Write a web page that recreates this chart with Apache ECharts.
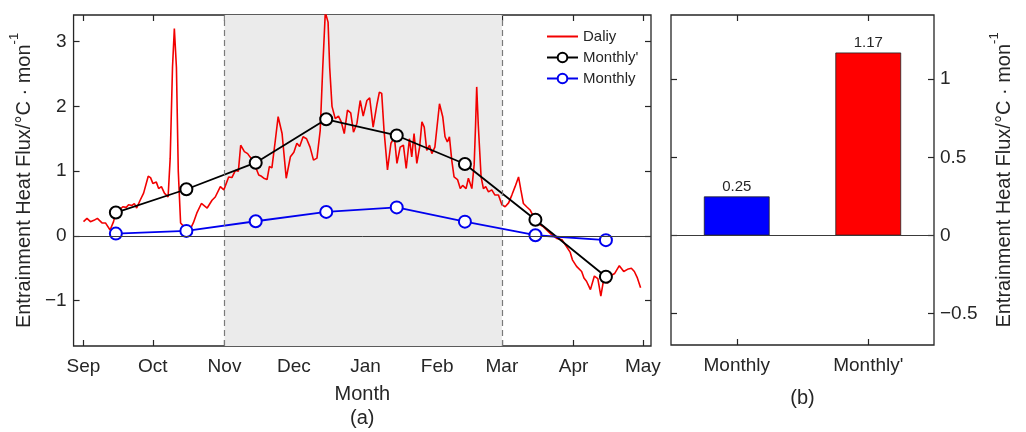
<!DOCTYPE html>
<html><head><meta charset="utf-8">
<script src="https://cdn.jsdelivr.net/npm/echarts@6/dist/echarts.min.js"></script>
<style>html,body{margin:0;padding:0;background:#fff}#c{width:1026px;height:432px}</style>
</head><body><div id="c"></div>
<script>
// ---- data ----
const monthLabels = ['Sep','Oct','Nov','Dec','Jan','Feb','Mar','Apr','May'];
const monthStartDays = [0,30,61,91,122,153,181,212,242];
const monthlyDays = [14,44.5,74.5,105,135.5,165,195.5,226];
const monthlyPrime = [0.36,0.72,1.13,1.80,1.55,1.11,0.25,-0.63];
const monthlyPlain = [0.035,0.077,0.226,0.37,0.44,0.22,0.01,-0.066];
const dailyDays = [0,1.5,3,4.5,6,8,9.5,11.5,13,14,15.5,17,18.5,19.5,21,22,23,24.5,26,28,29,30,31.5,32.5,33.7,35,36.6,37.5,38.5,39.3,40.2,41,42,44,46,47.5,49,51,53.5,55.6,57,59.2,60.7,62.8,64.2,65.7,67,68,69.6,71,72,73.5,75.8,77,78,79.4,80.4,81.5,82.2,83,84.2,85.9,87.7,89.5,91,92.3,93.5,95,96.5,98,99.5,101,102.4,103.5,104.6,105.8,106.5,107.5,108.9,110.3,111.5,112.8,114.2,115.6,116.8,118.3,119.7,121,122.6,123.8,125.3,127,128,129,130,131.5,133,134.5,135.6,137,138.4,139.6,141,142,143,144.2,145.4,146.4,147.4,148.5,149.7,150.7,152,154,155.4,156.4,157.4,158.3,159.3,160.3,161.8,163,164,165.5,166.5,168,169,169.6,170.1,170.8,172,173,174,175.2,176.6,178,179.5,181,182.4,183.9,185.3,186.7,188.2,189.2,190.3,191.7,193.2,194.6,196,197.5,199,201,202.5,204.7,207,208.5,210.5,211.5,213.3,215.5,216.5,217.6,219.3,221,222.5,223.8,225,226.7,227.8,229.8,231.8,233.7,235.7,237,238.3,239.5,241];
const dailyValues = [0.22,0.27,0.22,0.24,0.27,0.2,0.2,0.09,0.22,0.37,0.4,0.45,0.44,0.48,0.47,0.5,0.43,0.55,0.66,0.92,0.9,0.81,0.83,0.73,0.76,0.66,0.6,1.2,2.6,3.2,2.6,1.0,0.2,0.12,0.09,0.2,0.35,0.5,0.43,0.55,0.6,0.76,0.71,0.91,0.9,1.01,1.0,1.4,1.3,1.27,1.22,1.15,0.94,0.92,0.89,0.87,1.07,1.05,1.02,1.48,1.84,1.58,0.89,1.22,1.29,1.43,1.38,1.53,1.5,1.37,1.17,1.2,1.63,2.6,3.45,3.3,2.6,2.0,1.81,1.85,1.76,1.58,1.94,1.9,1.6,1.74,2.09,1.85,2.09,2.13,1.68,2.04,2.22,2.2,1.63,1.02,1.43,1.52,1.12,1.37,1.4,1.04,1.5,1.22,1.58,1.12,1.37,1.76,1.68,1.32,1.4,1.27,1.37,2.04,1.84,1.53,1.45,1.53,1.17,0.91,0.87,0.73,0.78,0.73,0.89,0.73,1.1,1.7,2.3,1.7,0.91,0.73,0.76,0.68,0.71,0.63,0.63,0.48,0.45,0.51,0.63,0.76,0.91,0.71,0.5,0.45,0.4,0.3,0.23,0.17,0.14,0.07,0.02,-0.04,-0.06,-0.14,-0.25,-0.37,-0.47,-0.55,-0.65,-0.7,-0.83,-0.62,-0.66,-0.93,-0.68,-0.73,-0.62,-0.58,-0.46,-0.55,-0.51,-0.5,-0.55,-0.64,-0.8];
const barCategories = ['Monthly', "Monthly'"];
const barValues = [0.25, 1.17];
const leftYTicks = [-1,0,1,2,3];
const rightYTicks = [-0.5,0,0.5,1];
const shadeRange = [61,181];

// ---- chart ----
const FONT = 'Liberation Sans, Arial, Helvetica, sans-serif';
const INK = '#262626';
const fmtNum = v => String(v).replace('-', '\u2212');
const nameRich = {
  m: {fontSize: 20, lineHeight: 26, verticalAlign: 'bottom', fontFamily: FONT, color: INK},
  s: {fontSize: 13, lineHeight: 13, verticalAlign: 'top', fontFamily: FONT, color: INK}
};
const yName = '{m|Entrainment Heat Flux/°C · mon}{s|-1}';
const tick = {show: true, inside: true, length: 6, lineStyle: {color: INK, width: 1.2}};
const noLine = {show: false, onZero: false};

const chart = echarts.init(document.getElementById('c'), null, {renderer: 'canvas'});
chart.setOption({
  backgroundColor: '#fff',
  animation: false,
  textStyle: {fontFamily: FONT},
  grid: [
    {left: 73, top: 15, width: 578, height: 331, show: true, borderColor: INK, borderWidth: 1.3, backgroundColor: 'transparent'},
    {left: 671, top: 15, width: 263, height: 330, show: true, borderColor: INK, borderWidth: 1.3, backgroundColor: 'transparent'}
  ],
  legend: {
    data: [{name: 'Daliy', itemStyle: {opacity: 0}}, "Monthly'", 'Monthly'],
    orient: 'vertical', left: 541, top: 24, itemWidth: 31, itemHeight: 12, itemGap: 6,
    textStyle: {fontSize: 15, color: INK, fontFamily: FONT}
  },
  graphic: [{type: 'text', left: 350, top: 408, style: {text: '(a)', fontSize: 20, fontFamily: FONT, fill: INK}}],
  xAxis: [
    {gridIndex: 0, type: 'value', min: -4.3, max: 245.5, position: 'bottom',
     splitLine: {show: false}, axisLine: noLine,
     axisTick: Object.assign({customValues: monthStartDays}, tick),
     axisLabel: {customValues: monthStartDays, fontSize: 19, color: INK, margin: 11,
       formatter: v => monthLabels[monthStartDays.indexOf(Math.round(v))] || ''},
     name: 'Month', nameLocation: 'middle', nameGap: 38,
     nameTextStyle: {fontSize: 20, color: INK, fontFamily: FONT}},
    {gridIndex: 0, type: 'value', min: -4.3, max: 245.5, position: 'top',
     splitLine: {show: false}, axisLine: noLine,
     axisTick: Object.assign({customValues: monthStartDays}, tick),
     axisLabel: {show: false, customValues: monthStartDays}},
    {gridIndex: 1, type: 'category', data: barCategories, position: 'bottom',
     axisLine: noLine, axisTick: Object.assign({alignWithLabel: true}, tick),
     axisLabel: {fontSize: 19, color: INK, margin: 11},
     name: '(b)', nameLocation: 'middle', nameGap: 43,
     nameTextStyle: {fontSize: 20, color: INK, fontFamily: FONT}},
    {gridIndex: 1, type: 'category', data: barCategories, position: 'top',
     axisLine: noLine, axisTick: Object.assign({alignWithLabel: true}, tick),
     axisLabel: {show: false}}
  ],
  yAxis: [
    {gridIndex: 0, type: 'value', min: -1.7, max: 3.41, position: 'left',
     splitLine: {show: false}, axisLine: noLine,
     axisTick: Object.assign({customValues: leftYTicks}, tick),
     axisLabel: {customValues: leftYTicks, fontSize: 19, color: INK, margin: 7, formatter: fmtNum},
     name: yName, nameLocation: 'middle', nameGap: 30, nameTextStyle: {rich: nameRich}},
    {gridIndex: 0, type: 'value', min: -1.7, max: 3.41, position: 'right',
     splitLine: {show: false}, axisLine: noLine,
     axisTick: Object.assign({customValues: leftYTicks}, tick),
     axisLabel: {show: false, customValues: leftYTicks}},
    {gridIndex: 1, type: 'value', min: -0.7, max: 1.41, position: 'right',
     splitLine: {show: false}, axisLine: noLine,
     axisTick: Object.assign({customValues: rightYTicks}, tick),
     axisLabel: {customValues: rightYTicks, fontSize: 19, color: INK, margin: 6, formatter: fmtNum},
     name: yName, nameLocation: 'middle', nameGap: 54, nameTextStyle: {rich: nameRich}},
    {gridIndex: 1, type: 'value', min: -0.7, max: 1.41, position: 'left',
     splitLine: {show: false}, axisLine: noLine,
     axisTick: Object.assign({customValues: rightYTicks}, tick),
     axisLabel: {show: false, customValues: rightYTicks}}
  ],
  series: [
    {name: 'shade', type: 'line', xAxisIndex: 0, yAxisIndex: 0, data: [], z: 1, silent: true,
     markArea: {silent: true, itemStyle: {color: '#ebebeb'},
       data: [[{xAxis: shadeRange[0]}, {xAxis: shadeRange[1]}]]},
     markLine: {silent: true, symbol: 'none', label: {show: false},
       data: [
         {xAxis: shadeRange[0], lineStyle: {color: '#7a7a7a', type: [6,4], width: 1.2}},
         {xAxis: shadeRange[1], lineStyle: {color: '#7a7a7a', type: [6,4], width: 1.2}},
         {yAxis: 0, lineStyle: {color: '#3a3a3a', type: 'solid', width: 1}}
       ]}},
    {name: 'Daliy', type: 'line', xAxisIndex: 0, yAxisIndex: 0, symbol: 'none', z: 3,
     data: dailyDays.map((d, i) => [d, dailyValues[i]]),
     lineStyle: {color: '#f20000', width: 1.6}, itemStyle: {color: '#f20000'}, clip: true},
    {name: "Monthly'", type: 'line', xAxisIndex: 0, yAxisIndex: 0, symbol: 'emptyCircle', symbolSize: 12, z: 4,
     data: monthlyDays.map((d, i) => [d, monthlyPrime[i]]),
     lineStyle: {color: '#000', width: 1.8}, itemStyle: {color: '#000', borderWidth: 1.6}},
    {name: 'Monthly', type: 'line', xAxisIndex: 0, yAxisIndex: 0, symbol: 'emptyCircle', symbolSize: 12, z: 4,
     data: monthlyDays.map((d, i) => [d, monthlyPlain[i]]),
     lineStyle: {color: '#0000ee', width: 1.8}, itemStyle: {color: '#0000ee', borderWidth: 1.6}},
    {name: 'bars', type: 'bar', xAxisIndex: 2, yAxisIndex: 2, barWidth: '50%',
     data: barValues.map((v, i) => ({value: v, itemStyle: {color: i === 0 ? '#0000ff' : '#ff0000'}})),
     itemStyle: {borderColor: '#222', borderWidth: 0.8},
     label: {show: true, position: 'top', distance: 2, fontSize: 15, color: INK, fontFamily: FONT,
       formatter: p => p.value.toFixed(2)},
     markLine: {silent: true, symbol: 'none', label: {show: false},
       data: [{yAxis: 0, lineStyle: {color: '#3a3a3a', type: 'solid', width: 1}}]}}
  ]
});
</script></body></html>
